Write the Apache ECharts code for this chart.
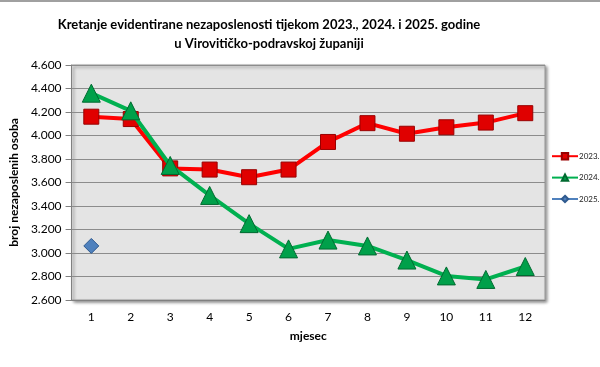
<!DOCTYPE html>
<html><head><meta charset="utf-8">
<script src="https://cdn.jsdelivr.net/npm/echarts@6/dist/echarts.min.js"></script>
<style>html,body{margin:0;padding:0;background:#fff}#c{width:600px;height:367px}</style>
</head><body><div id="c"></div>
<script>
var months = ['1','2','3','4','5','6','7','8','9','10','11','12'];
var s2023 = [4160, 4140, 3720, 3710, 3645, 3710, 3945, 4105, 4015, 4070, 4110, 4190];
var s2024 = [4360, 4210, 3745, 3490, 3250, 3035, 3110, 3060, 2940, 2805, 2775, 2885];
var s2025 = [3060, null, null, null, null, null, null, null, null, null, null, null];
var seriesNames = ['2023.', '2024.', '2025.'];
var yTicks = [2600, 4600, 200];

var chart = echarts.init(document.getElementById('c'));
function fmt(v){ var s = String(v); return s.length > 3 ? s.slice(0, s.length-3) + '.' + s.slice(-3) : s; }
chart.setOption({
  animation: false,
  backgroundColor: '#ffffff',
  title: {
    text: 'Kretanje evidentirane nezaposlenosti tijekom 2023., 2024. i 2025. godine\nu Virovitičko-podravskoj županiji',
    left: 264, top: 10, textAlign: 'center',
    textStyle: { fontFamily: 'Lato', fontWeight: 'bold', fontSize: 13, lineHeight: 19, color: '#000' }
  },
  legend: {
    orient: 'vertical', left: 551, top: 152, padding: 0, itemGap: 13, itemWidth: 26, itemHeight: 8,
    data: seriesNames,
    textStyle: { fontFamily: 'Lato', fontSize: 8, color: '#222', padding: [0,0,0,-4] }
  },
  grid: { left: 68, right: 55, top: 65, bottom: 67, show: true, backgroundColor: '#e4e4e4',
    borderColor: '#9a9a9a', borderWidth: 1, shadowColor: 'rgba(0,0,0,0.45)', shadowBlur: 3, shadowOffsetX: 2, shadowOffsetY: 2 },
  xAxis: {
    type: 'category', data: months, boundaryGap: true,
    name: 'mjesec', nameLocation: 'middle', nameGap: 30,
    nameTextStyle: { fontFamily: 'Lato', fontWeight: 'bold', fontSize: 12, color: '#000' },
    axisLine: { show: true, lineStyle: { color: '#808080' } },
    axisTick: { show: false },
    axisLabel: { fontFamily: 'Lato', fontSize: 12, color: '#000', margin: 11 }
  },
  yAxis: {
    type: 'value', min: yTicks[0], max: yTicks[1], interval: yTicks[2],
    name: 'broj nezaposlenih osoba', nameLocation: 'middle', nameGap: 45, nameRotate: 90,
    nameTextStyle: { fontFamily: 'Lato', fontWeight: 'bold', fontSize: 12, color: '#000' },
    axisLine: { show: true, lineStyle: { color: '#808080' } },
    axisTick: { show: true, length: 6, lineStyle: { color: '#808080' } },
    axisLabel: { fontFamily: 'Lato', fontSize: 12, color: '#000', formatter: fmt, margin: 10 },
    splitLine: { show: true, lineStyle: { color: '#8c8c8c', width: 1 } }
  },
  series: [
    { name: seriesNames[0], type: 'line', data: s2023, symbol: 'rect', symbolSize: 15,
      lineStyle: { color: '#ff0000', width: 4 },
      itemStyle: { color: '#e00000', borderColor: '#990000', borderWidth: 1 }, z: 3 },
    { name: seriesNames[1], type: 'line', data: s2024, symbol: 'triangle', symbolSize: 18,
      lineStyle: { color: '#00b050', width: 4 },
      itemStyle: { color: '#00a04a', borderColor: '#006a30', borderWidth: 1 }, z: 4 },
    { name: seriesNames[2], type: 'line', data: s2025, symbol: 'diamond', symbolSize: 15,
      lineStyle: { color: '#4f81bd', width: 3 }, connectNulls: false,
      itemStyle: { color: '#4f81bd', borderColor: '#2f5a8f', borderWidth: 1 }, z: 5 }
  ],
  graphic: [
    { type: 'rect', shape: { x: 0, y: 0, width: 600, height: 2 }, style: { fill: '#a0a0a0' } }
  ]
});
</script></body></html>
